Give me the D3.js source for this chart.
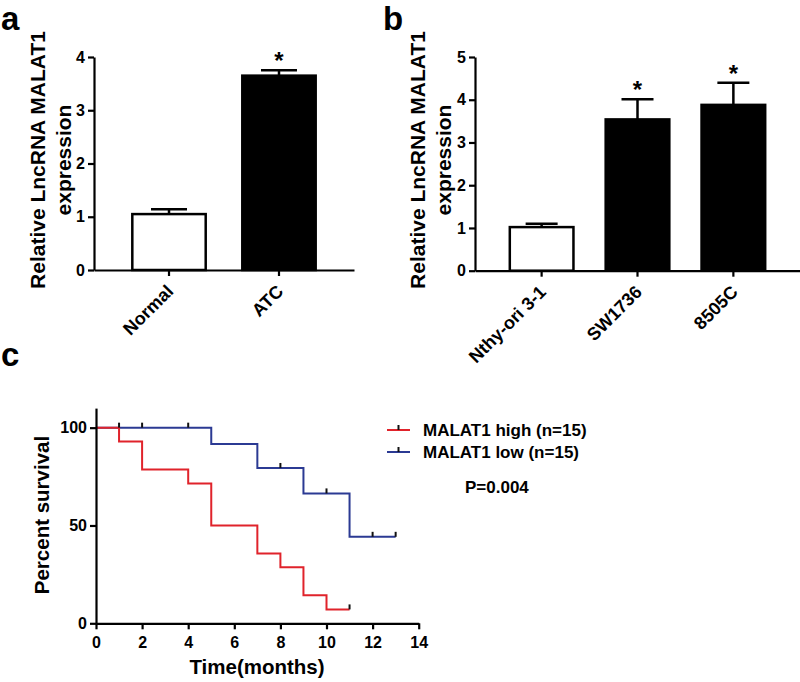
<!DOCTYPE html>
<html>
<head>
<meta charset="utf-8">
<script src="https://cdn.jsdelivr.net/npm/d3@7"></script>
<style>
  body { margin: 0; background: #fff; }
  svg text { font-family: "Liberation Sans", Arial, sans-serif; font-weight: bold; fill: #000; }
</style>
</head>
<body>
<div id="chart"></div>
<script>
// panel a
var groupsA = ["Normal", "ATC"];
var meanA = [1.05, 3.65];
var errA = [0.09, 0.10];
var starA = [false, true];
var ticksA = [0, 1, 2, 3, 4];

// panel b
var groupsB = ["Nthy-ori 3-1", "SW1736", "8505C"];
var meanB = [1.02, 3.54, 3.88];
var errB = [0.08, 0.47, 0.52];
var starB = [false, true, true];
var ticksB = [0, 1, 2, 3, 4, 5];

// panel c, Kaplan-Meier steps
var highTimes = [0, 1, 2, 4, 5, 7, 8, 9, 10, 11];
var highSurv = [100, 92.9, 78.6, 71.4, 50, 35.7, 28.6, 14.3, 7.1, 7.1];
var highCensor = [11];
var lowTimes = [0, 5, 7, 9, 11, 13];
var lowSurv = [100, 91.7, 79.4, 66.4, 44.2, 44.2];
var lowCensor = [1, 2, 4, 8, 10, 12, 13];
var timeTicks = [0, 2, 4, 6, 8, 10, 12, 14];
var survTicks = [0, 50, 100];
var seriesNames = ["MALAT1 high (n=15)", "MALAT1 low (n=15)"];
var seriesColors = ["#e0232b", "#2b3a93"];
var pText = "P=0.004";

var svg = d3.select("#chart").append("svg")
    .attr("width", 800)
    .attr("height", 682);

function styleAxis(g) {
    g.attr("font-size", null).attr("font-family", null);
    g.select(".domain").attr("stroke", "#000").attr("stroke-width", 2.2);
    g.selectAll(".tick line").attr("stroke", "#000").attr("stroke-width", 2.2);
    g.selectAll(".tick text").style("font-size", "16px");
}

function barPanel(cfg) {
    var x = d3.scaleBand()
        .domain(cfg.groups)
        .range(cfg.xRange)
        .paddingInner(0.31)
        .paddingOuter(cfg.outer);
    var y = d3.scaleLinear()
        .domain([0, cfg.ticks[cfg.ticks.length - 1]])
        .range(cfg.yRange);

    var rows = cfg.groups.map(function(g, i) {
        return { name: g, mean: cfg.mean[i], err: cfg.err[i], star: cfg.star[i], i: i };
    });

    // error bars (upper only)
    var eb = svg.append("g");
    eb.selectAll("line.v").data(rows).enter().append("line")
        .attr("x1", function(d) { return x(d.name) + x.bandwidth() / 2; })
        .attr("x2", function(d) { return x(d.name) + x.bandwidth() / 2; })
        .attr("y1", function(d) { return y(d.mean); })
        .attr("y2", function(d) { return y(d.mean + d.err); })
        .attr("stroke", "#000").attr("stroke-width", 2.5);
    eb.selectAll("line.c").data(rows).enter().append("line")
        .attr("x1", function(d) { return x(d.name) + x.bandwidth() / 2 - cfg.cap; })
        .attr("x2", function(d) { return x(d.name) + x.bandwidth() / 2 + cfg.cap; })
        .attr("y1", function(d) { return y(d.mean + d.err); })
        .attr("y2", function(d) { return y(d.mean + d.err); })
        .attr("stroke", "#000").attr("stroke-width", 2.5);

    svg.append("g").selectAll("rect").data(rows).enter().append("rect")
        .attr("x", function(d) { return x(d.name) + 1.25; })
        .attr("y", function(d) { return y(d.mean); })
        .attr("width", x.bandwidth() - 2.5)
        .attr("height", function(d) { return y(0) - y(d.mean); })
        .attr("fill", function(d) { return d.i == 0 ? "#fff" : "#000"; })
        .attr("stroke", "#000").attr("stroke-width", 2.5);

    svg.append("g").selectAll("text").data(rows.filter(function(d) { return d.star; })).enter().append("text")
        .attr("x", function(d) { return x(d.name) + x.bandwidth() / 2; })
        .attr("y", function(d) { return y(d.mean + d.err) - 1; })
        .attr("text-anchor", "middle")
        .style("font-size", "24px")
        .text("*");

    var xAxis = svg.append("g")
        .attr("transform", "translate(0," + y(0) + ")")
        .call(d3.axisBottom(x).tickSize(6).tickSizeOuter(0))
        .call(styleAxis);
    xAxis.selectAll(".tick text")
        .style("font-size", "18px")
        .attr("x", 0).attr("y", 0).attr("dy", "0.35em")
        .attr("transform", "translate(1,18) rotate(-45)")
        .style("text-anchor", "end");

    svg.append("g")
        .attr("transform", "translate(" + cfg.xRange[0] + ",0)")
        .call(d3.axisLeft(y).tickValues(cfg.ticks).tickFormat(d3.format("d")).tickSize(6).tickPadding(3).tickSizeOuter(0))
        .call(styleAxis);

    var title = svg.append("text")
        .attr("transform", "translate(" + cfg.titleX + "," + cfg.titleY + ") rotate(-90)")
        .attr("text-anchor", "middle")
        .style("font-size", "21px");
    title.append("tspan").attr("x", 0).attr("dy", "0.35em").text("Relative LncRNA MALAT1");
    title.append("tspan").attr("x", 0).attr("dy", "1.2em").text("expression");

    svg.append("text")
        .attr("x", cfg.letterX).attr("y", cfg.letterY)
        .style("font-size", "33px")
        .text(cfg.letter);
}

barPanel({
    groups: groupsA, mean: meanA, err: errA, star: starA, ticks: ticksA,
    xRange: [94, 354], yRange: [270, 57], outer: 0.337, cap: 18,
    titleX: 38, titleY: 160, letter: "a", letterX: 1, letterY: 30
});

barPanel({
    groups: groupsB, mean: meanB, err: errB, star: starB, ticks: ticksB,
    xRange: [475, 800], yRange: [270.7, 57], outer: 0.35, cap: 16,
    titleX: 418, titleY: 160, letter: "b", letterX: 383, letterY: 30
});

// panel c
var xc = d3.scaleLinear().domain([0, 14]).range([96, 418.7]);
var yc = d3.scaleLinear().domain([0, 110]).range([623.3, 408.1]);

var line = d3.line()
    .x(function(d) { return xc(d[0]); })
    .y(function(d) { return yc(d[1]); })
    .curve(d3.curveStepAfter);

var lowPts = lowTimes.map(function(t, i) { return [t, lowSurv[i]]; });
var highPts = highTimes.map(function(t, i) { return [t, highSurv[i]]; });

function survAt(times, surv, t) {
    var v = surv[0];
    times.forEach(function(tt, i) { if (tt <= t) v = surv[i]; });
    return v;
}

svg.append("path").attr("d", line(lowPts))
    .attr("fill", "none").attr("stroke", seriesColors[1]).attr("stroke-width", 2);
svg.append("path").attr("d", line(highPts))
    .attr("fill", "none").attr("stroke", seriesColors[0]).attr("stroke-width", 2);

var censors = lowCensor.map(function(t) { return [t, survAt(lowTimes, lowSurv, t)]; })
    .concat(highCensor.map(function(t) { return [t, survAt(highTimes, highSurv, t)]; }));
svg.append("g").selectAll("line").data(censors).enter().append("line")
    .attr("x1", function(d) { return xc(d[0]); })
    .attr("x2", function(d) { return xc(d[0]); })
    .attr("y1", function(d) { return yc(d[1]); })
    .attr("y2", function(d) { return yc(d[1]) - 5; })
    .attr("stroke", "#111").attr("stroke-width", 2);

svg.append("g")
    .attr("transform", "translate(0," + yc(0) + ")")
    .call(d3.axisBottom(xc).tickValues(timeTicks).tickSize(6).tickPadding(7).tickSizeOuter(0))
    .call(styleAxis);

svg.append("g")
    .attr("transform", "translate(" + xc(0) + ",0)")
    .call(d3.axisLeft(yc).tickValues(survTicks).tickSize(6).tickPadding(3).tickSizeOuter(0))
    .call(styleAxis);

svg.append("text")
    .attr("x", 257).attr("y", 674)
    .attr("text-anchor", "middle")
    .style("font-size", "20.5px")
    .text("Time(months)");

svg.append("text")
    .attr("transform", "translate(42,515) rotate(-90)")
    .attr("text-anchor", "middle")
    .attr("dy", "0.35em")
    .style("font-size", "20.5px")
    .text("Percent survival");

svg.append("text")
    .attr("x", 1).attr("y", 366)
    .style("font-size", "33px")
    .text("c");

// legend
var legend = svg.append("g").selectAll("g").data(seriesNames).enter().append("g")
    .attr("transform", function(d, i) { return "translate(387," + (430 + i * 22) + ")"; });
legend.append("line")
    .attr("x1", 0).attr("x2", 23).attr("y1", 0).attr("y2", 0)
    .attr("stroke", function(d, i) { return seriesColors[i]; }).attr("stroke-width", 2);
legend.append("line")
    .attr("x1", 11.5).attr("x2", 11.5).attr("y1", 0).attr("y2", -5)
    .attr("stroke", "#111").attr("stroke-width", 2);
legend.append("text")
    .attr("x", 36).attr("y", 0).attr("dy", "0.35em")
    .style("font-size", "17px")
    .text(function(d) { return d; });

svg.append("text")
    .attr("x", 465).attr("y", 493)
    .style("font-size", "17px")
    .text(pText);
</script>
</body>
</html>
